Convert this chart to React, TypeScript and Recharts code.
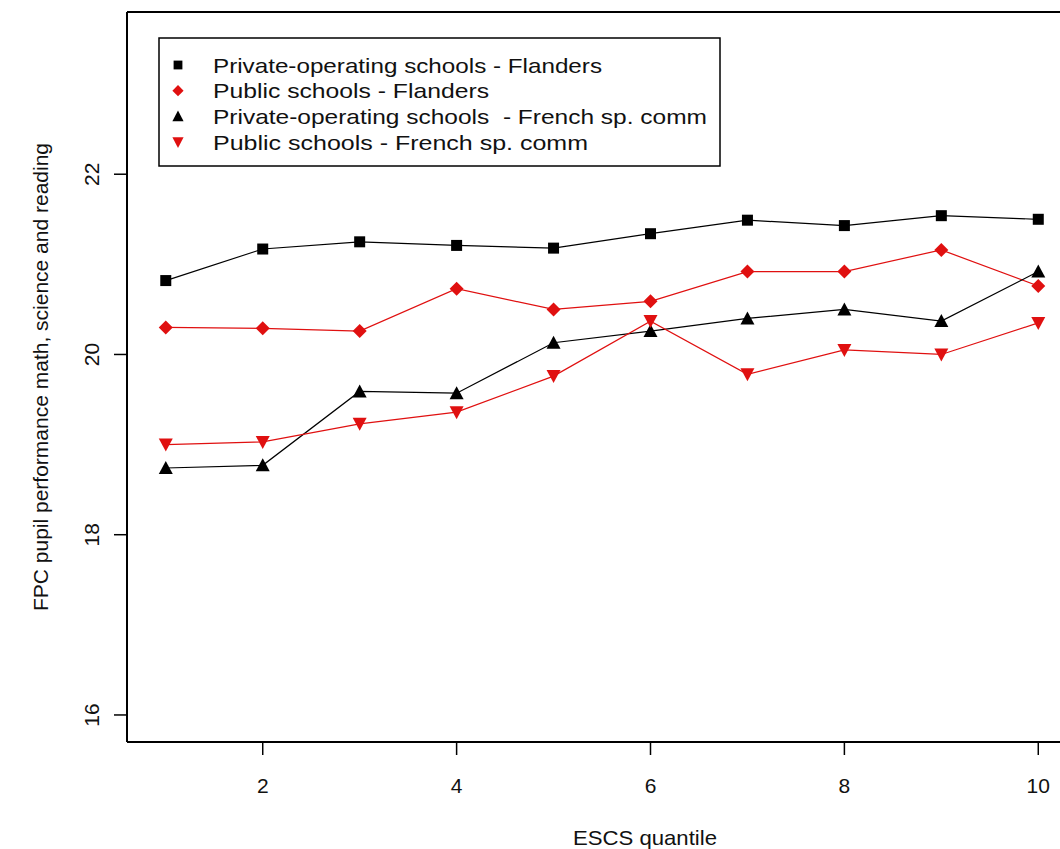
import React from 'react';
import {
  LineChart,
  Line,
  XAxis,
  YAxis,
  Legend,
  ReferenceLine,
  Label
} from 'recharts';

// ESCS quantiles and mean FPC score per group
const QUANTILES = [1, 2, 3, 4, 5, 6, 7, 8, 9, 10];
const PRIVATE_FLANDERS = [20.82, 21.17, 21.25, 21.21, 21.18, 21.34, 21.49, 21.43, 21.54, 21.5];
const PUBLIC_FLANDERS = [20.3, 20.29, 20.26, 20.73, 20.5, 20.59, 20.92, 20.92, 21.16, 20.76];
const PRIVATE_FRENCH = [18.74, 18.77, 19.59, 19.57, 20.13, 20.26, 20.4, 20.5, 20.37, 20.92];
const PUBLIC_FRENCH = [19.0, 19.03, 19.23, 19.36, 19.76, 20.37, 19.78, 20.05, 20.0, 20.35];

const X_TICKS = [2, 4, 6, 8, 10];
const Y_TICKS = [16, 18, 20, 22];

const SERIES_LABELS = [
  'Private-operating schools - Flanders',
  'Public schools - Flanders',
  'Private-operating schools  - French sp. comm',
  'Public schools - French sp. comm'
];

const FONT = '"Liberation Sans", Arial, sans-serif';
const RED = '#e01010';

// widths the legend texts take in the original
const LEGEND_TEXT_WIDTHS = [389, 276, 494, 375];

const data = QUANTILES.map((q, i) => ({
  q,
  privFl: PRIVATE_FLANDERS[i],
  pubFl: PUBLIC_FLANDERS[i],
  privFr: PRIVATE_FRENCH[i],
  pubFr: PUBLIC_FRENCH[i]
}));

type Shape = 'square' | 'diamond' | 'up' | 'down';

function Marker({ cx, cy, shape, color, s = 1 }: { cx: number; cy: number; shape: Shape; color: string; s?: number }) {
  if (shape === 'square') {
    const h = 5.5 * s;
    return <rect x={cx - h} y={cy - h} width={2 * h} height={2 * h} fill={color} />;
  }
  if (shape === 'diamond') {
    const h = 7 * s;
    return <polygon points={`${cx},${cy - h} ${cx + h},${cy} ${cx},${cy + h} ${cx - h},${cy}`} fill={color} />;
  }
  const w = 7 * s;
  const h = 6 * s;
  if (shape === 'up') {
    return <polygon points={`${cx - w},${cy + h} ${cx + w},${cy + h} ${cx},${cy - h - 1}`} fill={color} />;
  }
  return <polygon points={`${cx - w},${cy - h} ${cx + w},${cy - h} ${cx},${cy + h + 1}`} fill={color} />;
}

const dotFor = (shape: Shape, color: string) => (props: any) => (
  <Marker key={`${shape}-${props.index}`} cx={props.cx} cy={props.cy} shape={shape} color={color} />
);

const LEGEND_ITEMS: { shape: Shape; color: string }[] = [
  { shape: 'square', color: '#000' },
  { shape: 'diamond', color: RED },
  { shape: 'up', color: '#000' },
  { shape: 'down', color: RED }
];

function LegendBox() {
  return (
    <svg width={564} height={131} style={{ display: 'block' }}>
      <rect x={1} y={1} width={561} height={128} fill="#fff" stroke="#000" strokeWidth={1.5} />
      {SERIES_LABELS.map((label, i) => {
        const cy = 28 + i * 25.7;
        return (
          <g key={label}>
            <Marker cx={20} cy={cy} shape={LEGEND_ITEMS[i].shape} color={LEGEND_ITEMS[i].color} s={0.8} />
            <text
              x={55}
              y={cy}
              dominantBaseline="central"
              fontFamily={FONT}
              fontSize={21}
              fill="#111"
              textLength={LEGEND_TEXT_WIDTHS[i]}
              lengthAdjust="spacingAndGlyphs"
              style={{ whiteSpace: 'pre' }}
            >
              {label}
            </text>
          </g>
        );
      })}
    </svg>
  );
}

const YTick = ({ y, payload }: any) => (
  <text
    x={84}
    y={y}
    transform={`rotate(-90, 84, ${y})`}
    textAnchor="middle"
    dominantBaseline="central"
    fontFamily={FONT}
    fontSize={21}
    fill="#111"
  >
    {payload.value}
  </text>
);

const XTick = ({ x, payload }: any) => (
  <text x={x} y={777} textAnchor="middle" dominantBaseline="central" fontFamily={FONT} fontSize={21} fill="#111">
    {payload.value}
  </text>
);

export default function App() {
  return (
    <div style={{ position: 'fixed', left: 8, top: 8, width: 1052, height: 841, overflow: 'hidden', background: '#fff' }}>
      <LineChart width={1170} height={841} data={data} margin={{ top: 4, right: 4, bottom: 0, left: 0 }}>
        <XAxis
          dataKey="q"
          type="number"
          domain={[0.6, 11.4]}
          ticks={X_TICKS}
          allowDataOverflow
          height={107}
          tick={<XTick />}
          tickSize={13}
          tickLine={{ stroke: '#000', strokeWidth: 1.5 }}
          axisLine={{ stroke: '#000', strokeWidth: 2 }}
        >
          <Label
            content={() => (
              <text
                x={637}
                y={829}
                textAnchor="middle"
                dominantBaseline="central"
                fontFamily={FONT}
                fontSize={21}
                fill="#111"
                textLength={144}
                lengthAdjust="spacingAndGlyphs"
              >
                ESCS quantile
              </text>
            )}
          />
        </XAxis>
        <YAxis
          type="number"
          domain={[15.7, 23.8]}
          ticks={Y_TICKS}
          allowDataOverflow
          width={119}
          tick={<YTick />}
          tickSize={13}
          tickLine={{ stroke: '#000', strokeWidth: 1.5 }}
          axisLine={{ stroke: '#000', strokeWidth: 2 }}
        >
          <Label
            content={() => (
              <text
                x={32}
                y={369}
                transform="rotate(-90, 32, 369)"
                textAnchor="middle"
                dominantBaseline="central"
                fontFamily={FONT}
                fontSize={21}
                fill="#111"
              >
                FPC pupil performance math, science and reading
              </text>
            )}
          />
        </YAxis>
        <ReferenceLine y={23.8} stroke="#000" strokeWidth={2} />
        <Legend
          layout="vertical"
          align="center"
          verticalAlign="middle"
          wrapperStyle={{ left: 150, top: 29, width: 564 }}
          content={() => <LegendBox />}
        />
        <Line dataKey="privFl" stroke="#000" strokeWidth={1.2} dot={dotFor('square', '#000')} isAnimationActive={false} />
        <Line dataKey="pubFl" stroke={RED} strokeWidth={1.2} dot={dotFor('diamond', RED)} isAnimationActive={false} />
        <Line dataKey="privFr" stroke="#000" strokeWidth={1.2} dot={dotFor('up', '#000')} isAnimationActive={false} />
        <Line dataKey="pubFr" stroke={RED} strokeWidth={1.2} dot={dotFor('down', RED)} isAnimationActive={false} />
      </LineChart>
    </div>
  );
}
